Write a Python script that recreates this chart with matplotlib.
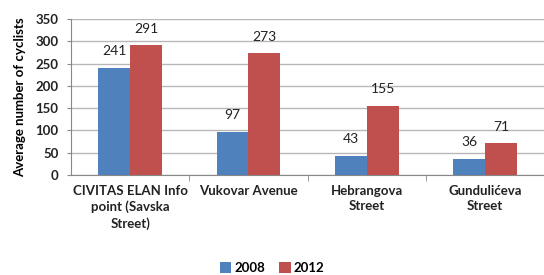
import matplotlib.pyplot as plt
import numpy as np

# Average number of cyclists per counting point
locations = ['CIVITAS ELAN Info\npoint (Savska\nStreet)', 'Vukovar Avenue',
             'Hebrangova\nStreet', 'Gundulićeva\nStreet']
years = ['2008', '2012']
counts_2008 = [241, 97, 43, 36]
counts_2012 = [291, 273, 155, 71]
yticks = [0, 50, 100, 150, 200, 250, 300, 350]

plt.rcParams['font.family'] = ['Lato', 'DejaVu Sans']

fig = plt.figure(figsize=(5.44, 2.75), dpi=100)
ax = fig.add_axes([0.1305, 0.3636, 0.87, 0.5673])

x = np.arange(len(locations))
w = 0.27
b1 = ax.bar(x - w / 2, counts_2008, w, color='#4F81BD', label=years[0], zorder=3)
b2 = ax.bar(x + w / 2, counts_2012, w, color='#C0504D', label=years[1], zorder=3)

for bars in (b1, b2):
    for bar in bars:
        ax.annotate(str(int(bar.get_height())),
                    (bar.get_x() + bar.get_width() / 2, bar.get_height()),
                    xytext=(0, 12), textcoords='offset points',
                    ha='center', va='center', fontsize=10, color='#222222')

ax.set_xlim(-0.5, len(locations) - 0.5)
ax.set_ylim(0, 350)
ax.set_yticks(yticks)
ax.yaxis.grid(True, color='#b8b8b8', linewidth=1, zorder=0)
ax.set_axisbelow(True)

ax.set_xticks(x)
ax.set_xticklabels(locations, fontsize=9.5, fontweight='bold', color='#222222',
                   linespacing=1.35)
ax.tick_params(axis='x', length=0, pad=7)
ax.set_xticks(x[:-1] + 0.5, minor=True)
ax.tick_params(axis='x', which='minor', length=4, color='#888888', direction='out')
ax.tick_params(axis='y', length=3, color='#888888', labelsize=9.5, pad=6)
for lbl in ax.get_yticklabels():
    lbl.set_fontweight('bold')
    lbl.set_color('#222222')

for s in ['top', 'right']:
    ax.spines[s].set_visible(False)
ax.spines['left'].set_color('#888888')
ax.spines['bottom'].set_color('#888888')

ax.set_ylabel('Average number of cyclists', fontsize=9.5, fontweight='bold', labelpad=7)

fig.legend(loc='center', bbox_to_anchor=(0.5, 0.027), ncol=2, frameon=False,
           handlelength=0.9, handleheight=0.9, handletextpad=0.25,
           columnspacing=1.0, prop={'weight': 'bold', 'size': 9.5})

plt.savefig('out.png', dpi=100)
